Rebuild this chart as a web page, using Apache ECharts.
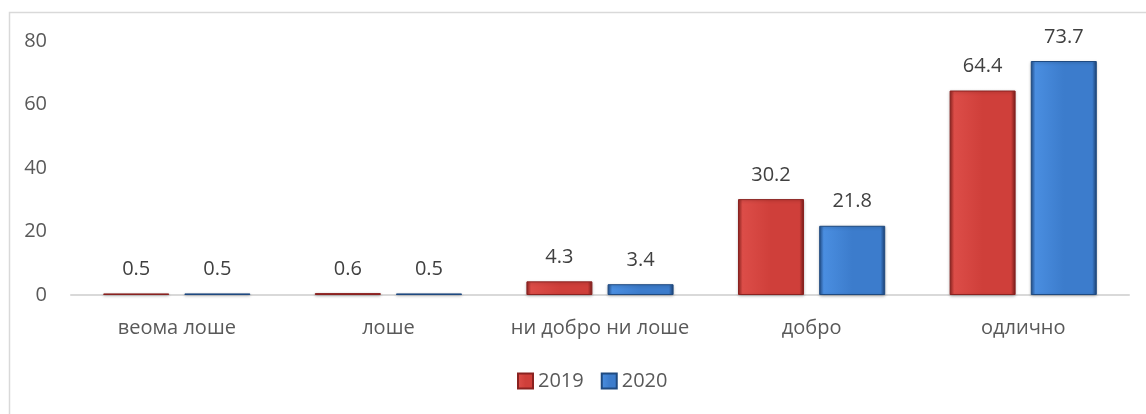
<!DOCTYPE html>
<html>
<head>
<meta charset="utf-8">
<script src="https://cdn.jsdelivr.net/npm/echarts@6/dist/echarts.min.js"></script>
<style>
html,body{margin:0;padding:0;background:#fff;}
#c{width:1146px;height:414px;}
</style>
</head>
<body>
<div id="c"></div>
<script>
const categories = ['веома лоше', 'лоше', 'ни добро ни лоше', 'добро', 'одлично'];
const values2019 = [0.5, 0.6, 4.3, 30.2, 64.4];
const values2020 = [0.5, 0.5, 3.4, 21.8, 73.7];
const seriesNames = ['2019', '2020'];

const FONT = '"Open Sans", sans-serif';
const TXT = '#595959';
const FS = 20;

function grad(dark, light, mid, dark2) {
  return new echarts.graphic.LinearGradient(0, 0, 1, 0, [
    {offset: 0, color: dark},
    {offset: 0.07, color: light},
    {offset: 0.5, color: mid},
    {offset: 0.93, color: mid},
    {offset: 1, color: dark2}
  ]);
}
const redFill = grad('#8e2420', '#dc4d48', '#cf3f3a', '#7a1d1a');
const blueFill = grad('#234f8a', '#4a8ee0', '#3c7ccc', '#1d4377');

const chart = echarts.init(document.getElementById('c'), null, {renderer: 'canvas'});
chart.setOption({
  animation: false,
  backgroundColor: '#fff',
  textStyle: {fontFamily: FONT},
  graphic: [{
    type: 'rect', left: 7, top: 10, silent: true, z: -1,
    shape: {width: 1300, height: 600},
    style: {fill: 'none', stroke: '#d9d9d9', lineWidth: 1.5}
  }],
  grid: {left: 71, right: 17, top: 41, bottom: 119, containLabel: false},
  legend: {
    data: seriesNames,
    bottom: 18,
    left: 512,
    itemWidth: 15,
    itemHeight: 15,
    itemGap: 17,
    textStyle: {color: TXT, fontSize: FS, fontFamily: FONT},
    icon: 'rect'
  },
  xAxis: {
    type: 'category',
    data: categories,
    axisLine: {lineStyle: {color: '#d9d9d9', width: 2}},
    axisTick: {show: false},
    axisLabel: {color: TXT, fontSize: FS, fontFamily: FONT, margin: 23, interval: 0}
  },
  yAxis: {
    type: 'value',
    min: 0, max: 80, interval: 20,
    axisLine: {show: false},
    axisTick: {show: false},
    splitLine: {show: false},
    axisLabel: {color: TXT, fontSize: FS, fontFamily: FONT, margin: 24}
  },
  series: [
    {
      name: seriesNames[0], type: 'bar', data: values2019,
      barWidth: 66, barGap: '23%',
      itemStyle: {color: redFill, borderColor: '#8a2220', borderWidth: 1,
        shadowColor: 'rgba(0,0,0,0.25)', shadowBlur: 3, shadowOffsetY: 1},
      label: {show: true, position: 'top', distance: 14, color: '#404040', fontSize: FS, fontFamily: FONT,
        formatter: p => p.value.toFixed(1)}
    },
    {
      name: seriesNames[1], type: 'bar', data: values2020,
      barWidth: 66,
      itemStyle: {color: blueFill, borderColor: '#1f4a80', borderWidth: 1,
        shadowColor: 'rgba(0,0,0,0.25)', shadowBlur: 3, shadowOffsetY: 1},
      label: {show: true, position: 'top', distance: 14, color: '#404040', fontSize: FS, fontFamily: FONT,
        formatter: p => p.value.toFixed(1)}
    }
  ]
});
</script>
</body>
</html>
